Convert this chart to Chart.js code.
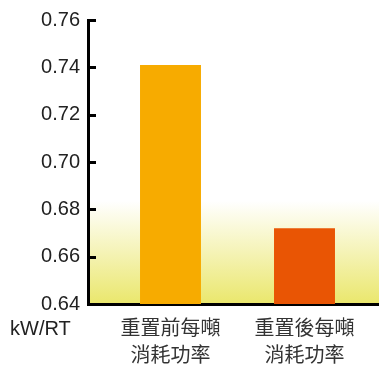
<!DOCTYPE html>
<html>
<head>
<meta charset="utf-8">
<script src="https://cdn.jsdelivr.net/npm/chart.js@4/dist/chart.umd.min.js"></script>
<style>
  html, body { margin: 0; padding: 0; background: #ffffff; }
  #wrap { width: 379px; height: 365px; position: relative; }
</style>
</head>
<body>
<div id="wrap"><canvas id="c" width="379" height="365"></canvas></div>
<script>
const categories = [["重置前每噸", "消耗功率"], ["重置後每噸", "消耗功率"]];
const values = [0.741, 0.672];
const barColors = ["#F7AB00", "#E95504"];
const yTicks = [0.64, 0.66, 0.68, 0.70, 0.72, 0.74, 0.76];
const unitLabel = "kW/RT";

const bgPlugin = {
  id: 'bgGradient',
  beforeDraw(chart) {
    const { ctx, chartArea } = chart;
    const yTop = chart.scales.y.getPixelForValue(0.6835);
    const g = ctx.createLinearGradient(0, yTop, 0, chartArea.bottom);
    g.addColorStop(0, 'rgba(255,255,255,1)');
    g.addColorStop(1, '#EAE76C');
    ctx.save();
    ctx.fillStyle = g;
    ctx.fillRect(chartArea.left, yTop, chartArea.right - chartArea.left, chartArea.bottom - yTop);
    ctx.restore();
  },
  afterDraw(chart) {
    const { ctx, chartArea } = chart;
    const ys = chart.scales.y;
    ctx.save();
    ctx.strokeStyle = '#000';
    ctx.lineWidth = 3;
    yTicks.forEach(v => {
      const py = Math.round(ys.getPixelForValue(v)) + 0.5;
      ctx.beginPath();
      ctx.moveTo(chartArea.left, py);
      ctx.lineTo(chartArea.left + 8, py);
      ctx.stroke();
    });
    ctx.font = '20px "Liberation Sans", Arial, sans-serif';
    ctx.fillStyle = '#222';
    ctx.textAlign = 'left';
    ctx.textBaseline = 'middle';
    ctx.fillText(unitLabel, 10, 329);
    ctx.restore();
  }
};

new Chart(document.getElementById('c'), {
  type: 'bar',
  data: {
    datasets: [{
      data: values.map((v, i) => ({ x: i, y: v })),
      backgroundColor: barColors,
      borderWidth: 0,
      barPercentage: 0.455,
      categoryPercentage: 1
    }]
  },
  options: {
    responsive: false,
    animation: false,
    events: [],
    layout: { padding: { top: 12, right: 0, left: 0, bottom: 0 } },
    plugins: { legend: { display: false }, tooltip: { enabled: false }, title: { display: false } },
    scales: {
      x: {
        type: 'linear',
        offset: false,
        min: -0.6157,
        max: 1.556,
        afterFit(s) { s.height = 61; },
        afterBuildTicks(s) { s.ticks = categories.map((c, i) => ({ value: i })); },
        grid: { display: true, offset: false, drawOnChartArea: false, drawTicks: false },
        border: { display: true, color: '#000', width: 3 },
        ticks: {
          autoSkip: false,
          maxRotation: 0,
          padding: 10,
          color: '#333',
          font: { family: '"Noto Sans CJK TC", "Noto Sans CJK SC", sans-serif', size: 20, lineHeight: 1.35 },
          callback: (v) => categories[v]
        }
      },
      y: {
        min: 0.64,
        max: 0.76,
        afterFit(s) { s.width = 88; },
        afterBuildTicks(s) { s.ticks = yTicks.map(v => ({ value: v })); },
        grid: { display: true, drawOnChartArea: false, drawTicks: false },
        border: { display: true, color: '#000', width: 3 },
        ticks: {
          padding: 8,
          color: '#222',
          font: { family: '"Liberation Sans", Arial, sans-serif', size: 20 },
          callback: (v) => v.toFixed(2)
        }
      }
    }
  },
  plugins: [bgPlugin]
});
</script>
</body>
</html>
